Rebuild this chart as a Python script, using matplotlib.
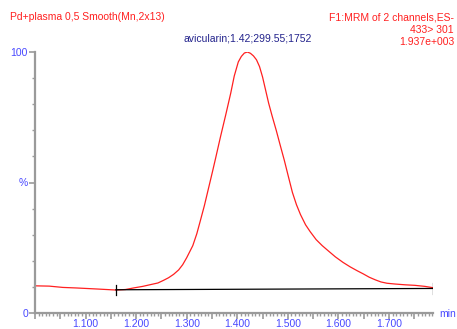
import numpy as np
import matplotlib
matplotlib.use("Agg")
import matplotlib.pyplot as plt
from matplotlib.ticker import FixedLocator, MultipleLocator, FuncFormatter

# retention time (min) and relative intensity (%)
rt = [1.002, 1.028, 1.055, 1.081, 1.122, 1.160, 1.179, 1.195, 1.213, 1.229,
      1.243, 1.254, 1.264, 1.274, 1.284, 1.292, 1.300, 1.306, 1.312, 1.320,
      1.327, 1.335, 1.343, 1.351, 1.357, 1.367, 1.377, 1.387, 1.394, 1.402,
      1.408, 1.414, 1.420, 1.426, 1.432, 1.438, 1.444, 1.450, 1.456, 1.462,
      1.469, 1.477, 1.485, 1.493, 1.501, 1.509, 1.517, 1.525, 1.535, 1.544,
      1.556, 1.568, 1.580, 1.594, 1.609, 1.623, 1.637, 1.649, 1.661, 1.673,
      1.684, 1.696, 1.712, 1.732, 1.751, 1.771, 1.787]
intensity = [10.4, 10.3, 9.8, 9.6, 9.2, 8.8, 9.0, 9.6, 10.2, 10.9,
             11.5, 12.5, 13.5, 14.8, 16.5, 18.5, 21.2, 23.5, 25.8, 30.4,
             35.4, 41.2, 47.7, 54.2, 59.2, 67.7, 75.8, 84.2, 90.8, 96.2,
             98.3, 99.6, 100.0, 99.5, 98.5, 97.0, 94.4, 90.4, 85.4, 80.4,
             75.4, 70.0, 64.2, 58.5, 52.3, 46.2, 41.5, 37.7, 33.8, 31.2,
             28.1, 25.8, 23.8, 21.5, 19.4, 17.7, 16.2, 15.0, 13.7, 12.7,
             11.9, 11.4, 11.1, 10.8, 10.6, 10.2, 9.7]

# integration baseline end points
base_rt = [1.160, 1.787]
base_int = [8.9, 9.4]

xtick_labels = [1.1, 1.2, 1.3, 1.4, 1.5, 1.6, 1.7]

red = "#ff2020"
blue = "#4848ff"
navy = "#23238c"
grey = "#9a9a9a"

plt.rcParams['font.family'] = ['Liberation Sans', 'DejaVu Sans']

fig = plt.figure(figsize=(4.57, 3.29), dpi=100)
ax = fig.add_axes([35 / 457, 16 / 329, 398 / 457, 261 / 329])

ax.plot(rt, intensity, color=red, lw=0.9)
ax.plot(base_rt, base_int, color="black", lw=0.9)
for bx, by in zip(base_rt, base_int):
    ax.plot([bx, bx], [by - 2.0, by + 2.0], color="black", lw=0.9)

ax.set_xlim(1.0, 1.787)
ax.set_ylim(0, 100)

for s in ["top", "right"]:
    ax.spines[s].set_visible(False)
for s in ["left", "bottom"]:
    ax.spines[s].set_color(grey)
    ax.spines[s].set_linewidth(1.6)

# y axis: 0, %, 100 with minor ticks every 10
ax.yaxis.set_major_locator(FixedLocator([0, 50, 100]))
ax.set_yticklabels(["0", "%", "100"])
ax.yaxis.set_minor_locator(MultipleLocator(10))

# x axis: labelled every 0.1, ticks every 0.05 and finer minor ticks
ax.xaxis.set_major_locator(MultipleLocator(0.05))
ax.xaxis.set_major_formatter(FuncFormatter(
    lambda v, p: "%.3f" % v if any(abs(v - t) < 1e-6 for t in xtick_labels) else ""))
ax.xaxis.set_minor_locator(MultipleLocator(0.05 / 7))

ax.tick_params(which="major", length=4, width=1.2, color=grey,
               labelcolor=blue, labelsize=7.5, pad=1)
ax.tick_params(which="minor", length=2, width=1.0, color=grey)
ax.tick_params(axis="x", which="major", pad=0.5)

fig.text(456 / 457, 1 - 314 / 329, "min", color=blue, fontsize=7.5,
         ha="right", va="center")
fig.text(10 / 457, 1 - 17 / 329, "Pd+plasma 0,5 Smooth(Mn,2x13)",
         color=red, fontsize=7.5, ha="left", va="center")
fig.text(454 / 457, 1 - 17 / 329, "F1:MRM of 2 channels,ES-",
         color=red, fontsize=7.5, ha="right", va="center")
fig.text(454 / 457, 1 - 30 / 329, "433> 301",
         color=red, fontsize=7.5, ha="right", va="center")
fig.text(454 / 457, 1 - 42 / 329, "1.937e+003",
         color=red, fontsize=7.5, ha="right", va="center")
ax.annotate("avicularin;1.42;299.55;1752", xy=(1.421, 100),
            xytext=(0, 6), textcoords="offset points",
            ha="center", va="bottom", color=navy, fontsize=7.5,
            annotation_clip=False)

fig.savefig("out.png", dpi=100)
